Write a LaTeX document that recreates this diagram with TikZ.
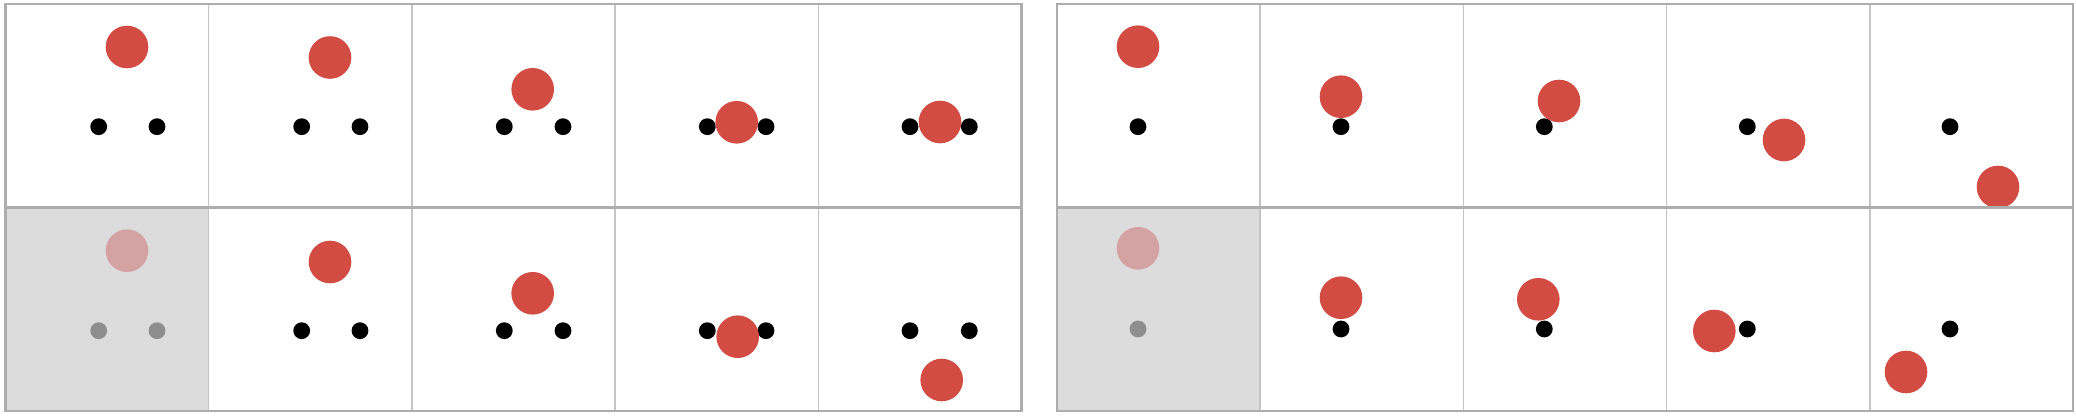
\documentclass[tikz,border=0pt]{standalone}
\definecolor{ballred}{HTML}{D24C43}
\definecolor{fadered}{HTML}{D4A2A2}
\definecolor{fadedotc}{HTML}{8E8E8E}
\definecolor{cellgray}{HTML}{DCDCDC}
\definecolor{outerline}{HTML}{ADADAD}
\definecolor{innerline}{HTML}{C4C4C4}
\tikzset{
  ball/.style={circle, fill=ballred, draw=none, minimum size=0.426cm, inner sep=0pt},
  fadeball/.style={ball, fill=fadered},
  pdot/.style={circle, fill=black, draw=none, minimum size=0.168cm, inner sep=0pt},
  fadepdot/.style={pdot, fill=fadedotc},
  outerframe/.style={draw=outerline, line width=0.65pt},
  innergrid/.style={draw=innerline, line width=0.45pt},
}
\begin{document}
\begin{tikzpicture}[x=0.01cm, y=-0.01cm]
\useasboundingbox (0,0) rectangle (2076,416);
\fill[white] (0,0) rectangle (2076,416);
% shaded cells
\fill[cellgray] (5.5,207.5) rectangle (208.7,411);
\fill[cellgray] (1057,207.5) rectangle (1260.2,411);

% ---------- left panel, top row ----------
\begin{scope}
\clip (5.5,4) rectangle (1021.5,207.5);
\node[pdot] (L1a) at (98.7,126.7) {};  \node[pdot] (L1b) at (157,126.7) {};
\node[ball] (L1r) at (127,47) {};
\node[pdot] (L2a) at (301.7,126.7) {}; \node[pdot] (L2b) at (360,126.7) {};
\node[ball] (L2r) at (330,57.5) {};
\node[pdot] (L3a) at (504.3,126.7) {}; \node[pdot] (L3b) at (563,126.7) {};
\node[ball] (L3r) at (532.7,89.3) {};
\node[pdot] (L4a) at (707.3,126.7) {}; \node[pdot] (L4b) at (766,126.7) {};
\node[ball] (L4r) at (736.7,122.3) {};
\node[pdot] (L5a) at (910,126.7) {};   \node[pdot] (L5b) at (969.3,126.7) {};
\node[ball] (L5r) at (940,122) {};
\end{scope}

% ---------- left panel, bottom row ----------
\begin{scope}
\clip (5.5,207.5) rectangle (1021.5,411);
\node[fadepdot] (M1a) at (98.7,330.7) {}; \node[fadepdot] (M1b) at (157,330.7) {};
\node[fadeball] (M1r) at (127,250.7) {};
\node[pdot] (M2a) at (301.7,330.7) {}; \node[pdot] (M2b) at (360,330.7) {};
\node[ball] (M2r) at (330,262) {};
\node[pdot] (M3a) at (504.3,330.7) {}; \node[pdot] (M3b) at (563,330.7) {};
\node[ball] (M3r) at (532.7,293.3) {};
\node[pdot] (M4a) at (707.3,330.7) {}; \node[pdot] (M4b) at (766,330.7) {};
\node[ball] (M4r) at (737.7,336.7) {};
\node[pdot] (M5a) at (910,330.7) {};   \node[pdot] (M5b) at (969.3,330.7) {};
\node[ball] (M5r) at (941.7,380) {};
\end{scope}

% ---------- right panel, top row ----------
\begin{scope}
\clip (1057,4) rectangle (2073,207.5);
\node[pdot] (R1d) at (1138,126.7) {};   \node[ball] (R1r) at (1138,46.7) {};
\node[pdot] (R2d) at (1341,126.7) {};   \node[ball] (R2r) at (1341,96.7) {};
\node[pdot] (R3d) at (1544.3,126.7) {}; \node[ball] (R3r) at (1559,101) {};
\node[pdot] (R4d) at (1747.3,126.7) {}; \node[ball] (R4r) at (1784,140) {};
\node[pdot] (R5d) at (1950,126.7) {};   \node[ball] (R5r) at (1998,187) {};
\end{scope}

% ---------- right panel, bottom row ----------
\begin{scope}
\clip (1057,207.5) rectangle (2073,411);
\node[fadepdot] (S1d) at (1138,329) {}; \node[fadeball] (S1r) at (1138,248.3) {};
\node[pdot] (S2d) at (1341,329) {};     \node[ball] (S2r) at (1341,297.7) {};
\node[pdot] (S3d) at (1544.3,329) {};   \node[ball] (S3r) at (1538.3,299.3) {};
\node[pdot] (S4d) at (1747.3,329) {};   \node[ball] (S4r) at (1714.3,331) {};
\node[pdot] (S5d) at (1950,329) {};     \node[ball] (S5r) at (1906,372) {};
\end{scope}

% ---------- grid lines ----------
\foreach \x in {208.7,411.9,615.1,818.3,1260.2,1463.4,1666.6,1869.8}
  \draw[innergrid] (\x,4) -- (\x,411);
\draw[outerframe] (5.5,207.5) -- (1021.5,207.5);
\draw[outerframe] (1057,207.5) -- (2073,207.5);
\draw[outerframe] (5.5,4) rectangle (1021.5,411);
\draw[outerframe] (1057,4) rectangle (2073,411);
\end{tikzpicture}
\end{document}
